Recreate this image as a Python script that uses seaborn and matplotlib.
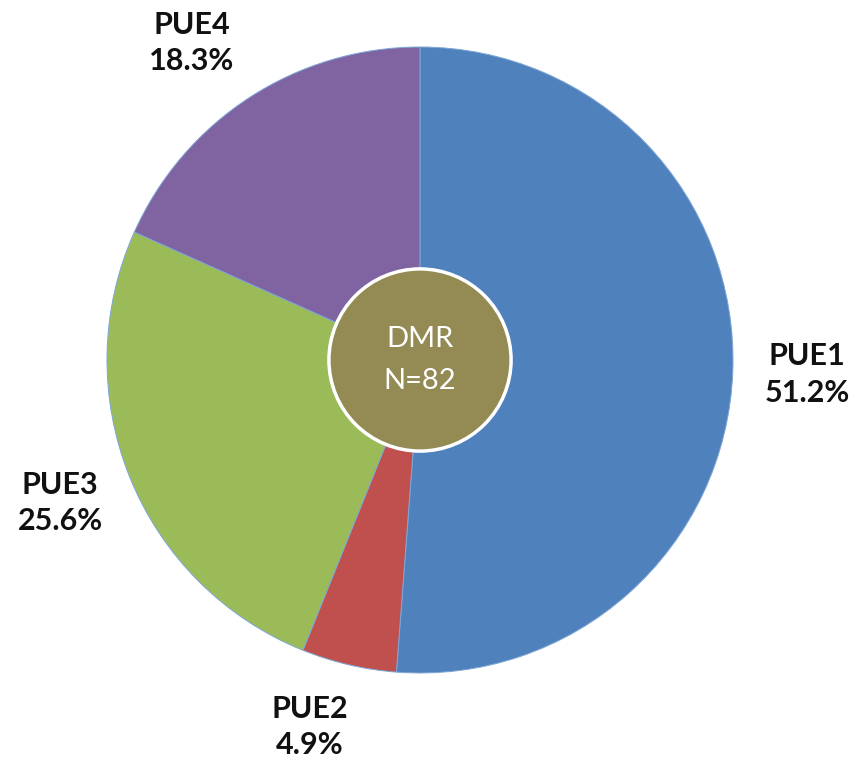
import matplotlib
matplotlib.use("Agg")
import numpy as np
import matplotlib.pyplot as plt
import seaborn as sns

# ── Data ───────────────────────────────────────────────────────────────────────
LABELS = ["PUE1", "PUE2", "PUE3", "PUE4"]
SHARES = [51.2, 4.9, 25.6, 18.3]
COLORS = ["#4F81BD", "#C0504D", "#9BBB59", "#8064A2"]
CENTER_TEXT = "DMR\nN=82"
CENTER_COLOR = "#948A54"

# label layout (radial distance in pie radii, angular nudge in degrees)
LABEL_DIST = [1.237, 1.224, 1.237, 1.247]
LABEL_NUDGE = [0.0, -3.6, -0.3, 2.8]

sns.set_theme(style="white")
plt.rcParams["font.family"] = ["Lato", "DejaVu Sans"]

W, H = 860, 761
fig = plt.figure(figsize=(W / 100, H / 100), dpi=100)
ax = fig.add_axes([0, 0, 1, 1])

# pie centre in pixels and radius -> data limits (1 unit = radius)
cx, cy, r = 420, 360, 313

labels = [f"{l}\n{v:.1f}%" for l, v in zip(LABELS, SHARES)]
wedges, texts = ax.pie(
    SHARES, labels=labels, colors=COLORS, startangle=90, counterclock=False,
    labeldistance=1.235, radius=1.0,
    wedgeprops=dict(edgecolor="#7fa6d6", linewidth=0.7),
    textprops=dict(fontsize=22, fontweight="bold", color="#111111",
                   linespacing=1.36),
)
for w, t, d, nudge in zip(wedges, texts, LABEL_DIST, LABEL_NUDGE):
    mid = np.deg2rad((w.theta1 + w.theta2) / 2 + nudge)
    t.set_position((d * np.cos(mid), d * np.sin(mid)))
    t.set_ha("center")
    t.set_va("center")

ax.set_xlim(-cx / r, (W - cx) / r)
ax.set_ylim(-(H - cy) / r, cy / r)
ax.set_aspect("auto")
ax.axis("off")

# inner circle
ax.add_patch(plt.Circle((0, 0), 0.291, facecolor=CENTER_COLOR,
                        edgecolor="white", linewidth=2.5, zorder=5))
ax.text(0, 0, CENTER_TEXT, ha="center", va="center", color="white",
        fontsize=21, linespacing=1.8, zorder=6)

fig.savefig("out.png", dpi=100, facecolor="white")
